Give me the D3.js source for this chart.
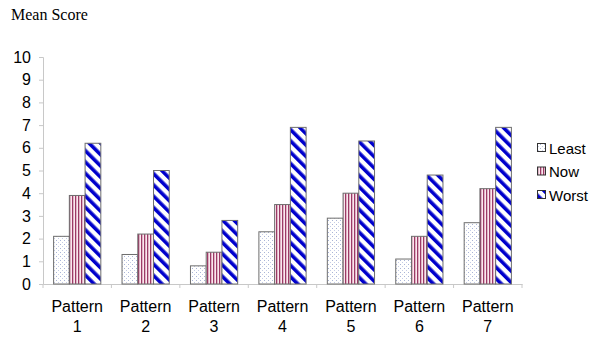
<!DOCTYPE html>
<html><head><meta charset="utf-8">
<script src="https://cdn.jsdelivr.net/npm/d3@7"></script>
<style>body{margin:0;background:#fff}</style>
</head><body>
<script>
const categories = ["Pattern 1","Pattern 2","Pattern 3","Pattern 4","Pattern 5","Pattern 6","Pattern 7"];
const seriesNames = ["Least","Now","Worst"];
const least = [2.1, 1.3, 0.8, 2.3, 2.9, 1.1, 2.7];
const now   = [3.9, 2.2, 1.4, 3.5, 4.0, 2.1, 4.2];
const worst = [6.2, 5.0, 2.8, 6.9, 6.3, 4.8, 6.9];
const yTicks = [0,1,2,3,4,5,6,7,8,9,10];
const series = [least, now, worst];

const W = 600, H = 343;
const svg = d3.select("body").append("svg").attr("width", W).attr("height", H);
const defs = svg.append("defs");

// patterns
const p1 = defs.append("pattern").attr("id","pLeast").attr("patternUnits","userSpaceOnUse").attr("width",4).attr("height",4);
p1.append("rect").attr("width",4).attr("height",4).attr("fill","#fff");
p1.append("rect").attr("x",0).attr("y",0).attr("width",1).attr("height",1).attr("fill","#a9b4d6");
p1.append("rect").attr("x",2).attr("y",2).attr("width",1).attr("height",1).attr("fill","#c5cce6");

const p2 = defs.append("pattern").attr("id","pNow").attr("patternUnits","userSpaceOnUse").attr("width",3).attr("height",3);
p2.append("rect").attr("width",3).attr("height",3).attr("fill","#fbe8ee");
p2.append("rect").attr("x",0).attr("width",1.3).attr("height",3).attr("fill","#9c3a66");

const p3 = defs.append("pattern").attr("id","pWorst").attr("patternUnits","userSpaceOnUse").attr("width",8).attr("height",8)
  .attr("patternTransform","rotate(-45)");
p3.append("rect").attr("width",8).attr("height",8).attr("fill","#fff");
p3.append("rect").attr("x",0).attr("width",3.6).attr("height",8).attr("fill","#0000cc");

const fills = ["url(#pLeast)","url(#pNow)","url(#pWorst)"];

const x0 = 43, x1 = 522, yTop = 57, yBot = 284;
const x = d3.scaleBand().domain(categories).range([x0, x1]).paddingInner(0.31).paddingOuter(0.155);
const xs = d3.scaleBand().domain(seriesNames).range([0, x.bandwidth()]);
const y = d3.scaleLinear().domain([0,10]).range([yBot, yTop]);

// Title
svg.append("text").attr("x",11).attr("y",20).attr("font-family","'Liberation Serif', 'Times New Roman', serif")
  .attr("font-size",16).attr("fill","#000").text("Mean Score");

// Y axis
const ya = svg.append("g").attr("transform",`translate(${x0},0)`)
  .call(d3.axisLeft(y).tickValues(yTicks).tickSize(4).tickPadding(8).tickFormat(d3.format("d")));
ya.select(".domain").attr("stroke","#c8c8c8");
ya.selectAll(".tick line").attr("stroke","#c8c8c8");
ya.selectAll(".tick text").attr("font-family","'Liberation Sans', Arial, sans-serif").attr("font-size",16).attr("fill","#000");

// X axis
const xa = svg.append("g").attr("transform",`translate(0,${yBot})`)
  .call(d3.axisBottom(x).tickSize(0).tickFormat(""));
xa.select(".domain").attr("stroke","#c8c8c8");
const step = x.step();
const bounds = d3.range(categories.length+1).map(i => x0 + i*step);
xa.selectAll(".bt").data(bounds).enter().append("line").attr("class","bt")
  .attr("x1",d=>d).attr("x2",d=>d).attr("y1",0).attr("y2",4).attr("stroke","#c8c8c8");

// x labels (two lines)
const lab = svg.append("g");
categories.forEach(c => {
  const parts = c.split(" ");
  const cx = x(c) + x.bandwidth()/2;
  const t = lab.append("text").attr("text-anchor","middle").attr("font-family","'Liberation Sans', Arial, sans-serif")
    .attr("font-size",16).attr("fill","#000");
  t.append("tspan").attr("x",cx).attr("y",312).text(parts[0]);
  t.append("tspan").attr("x",cx).attr("y",332).text(parts[1]);
});

// bars
series.forEach((vals, si) => {
  svg.append("g").selectAll("rect").data(vals).enter().append("rect")
    .attr("x",(d,i)=>x(categories[i]) + xs(seriesNames[si]))
    .attr("y",d=>y(d))
    .attr("width",xs.bandwidth())
    .attr("height",d=>yBot - y(d))
    .attr("fill",fills[si])
    .attr("stroke","#6e6e6e").attr("stroke-width",1);
});

// legend
const lg = svg.append("g");
seriesNames.forEach((n,i)=>{
  const cy = 148 + i*23.5;
  lg.append("rect").attr("x",537.5).attr("y",cy-4.5).attr("width",8).attr("height",8)
    .attr("fill",fills[i]).attr("stroke","#333").attr("stroke-width",1);
  lg.append("text").attr("x",549).attr("y",cy+5.5).attr("font-family","'Liberation Sans', Arial, sans-serif")
    .attr("font-size",15).attr("fill","#000").text(n);
});
</script>
</body></html>
